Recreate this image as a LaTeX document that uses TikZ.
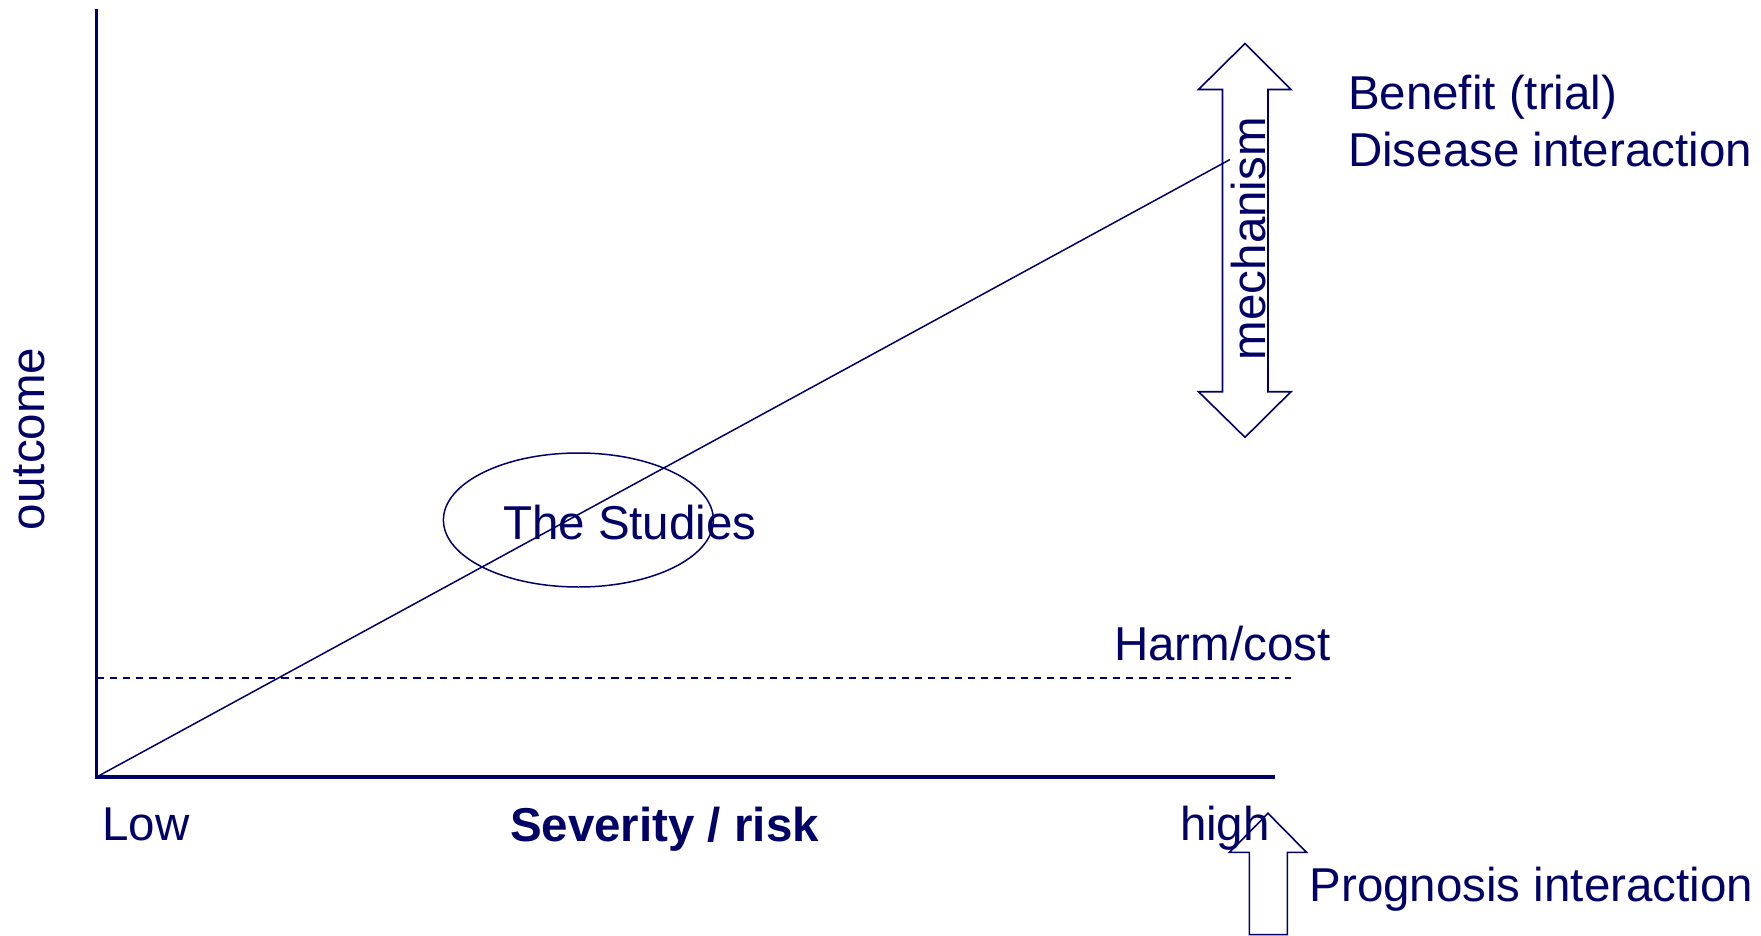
\documentclass[tikz,border=0pt]{standalone}
\usepackage{fontspec}
\setmainfont{Liberation Sans}
\usetikzlibrary{shapes.geometric}
\definecolor{navy}{RGB}{0,0,102}
\begin{document}
\begin{tikzpicture}[x=0.5pt,y=-0.5pt,
  lbl/.style={inner sep=0pt,outer sep=0pt,text=navy,font=\fontsize{23.75}{28}\selectfont},
  axisline/.style={draw=navy,line width=1.7pt},
  thinline/.style={draw=navy,line width=0.75pt},
  harmline/.style={draw=navy,line width=0.7pt,dash pattern=on 3.6pt off 3pt},
  bigarrow/.style={draw=navy,line width=0.8pt,line join=miter}]
\useasboundingbox (0,0) rectangle (1761,936);
% axes
\coordinate (O) at (96.6,777);
\coordinate (ytop) at (96.6,9);
\coordinate (xend) at (1275,777);
\draw[axisline] (ytop) -- (O) -- (xend);
% harm line
\coordinate (h1) at (96.6,678);
\coordinate (h2) at (1291,678);
\draw[harmline] (h1) -- (h2);
% ellipse
\node[ellipse,draw=navy,line width=0.75pt,minimum width=135pt,minimum height=67pt,inner sep=0pt] (studies) at (578.4,520) {};
% mechanism double arrow
\draw[bigarrow] (1245,43.5) -- (1291,89.5) -- (1268,89.5) -- (1268,391.7) -- (1291,391.7)
  -- (1245,437.3) -- (1198.5,391.7) -- (1222.5,391.7) -- (1222.5,89.5) -- (1198.5,89.5) -- cycle;
% prognosis arrow
\draw[bigarrow] (1268,813.3) -- (1306.5,852.3) -- (1287.4,852.3) -- (1287.4,934.6) -- (1249.3,934.6)
  -- (1249.3,852.3) -- (1229.5,852.3) -- cycle;
% diagonal
\coordinate (dend) at (1230,159.5);
\draw[thinline] (O) -- (dend);
% texts
\node[lbl,anchor=base west] (stext) at (503,539) {The Studies};
\node[lbl,anchor=base west] (benefit) at (1348,110) {Benefit (trial)};
\node[lbl,anchor=base west] (disease) at (1348,167) {Disease interaction};
\node[lbl,anchor=base west] (harm) at (1114,660) {Harm/cost};
\node[lbl,anchor=base west] (low) at (102.5,840) {Low};
\node[lbl,anchor=base west,font=\fontsize{23.75}{28}\selectfont\bfseries] (sev) at (510,841) {Severity / risk};
\node[lbl,anchor=base west] (high) at (1180,840) {high};
\node[lbl,anchor=base west] (prog) at (1309.5,901.5) {Prognosis interaction};
\node[lbl,anchor=base west,rotate=90] (mech) at (1265.4,360) {mechanism};
\node[lbl,anchor=base west,rotate=90] (outc) at (44,530) {outcome};
\end{tikzpicture}
\end{document}
